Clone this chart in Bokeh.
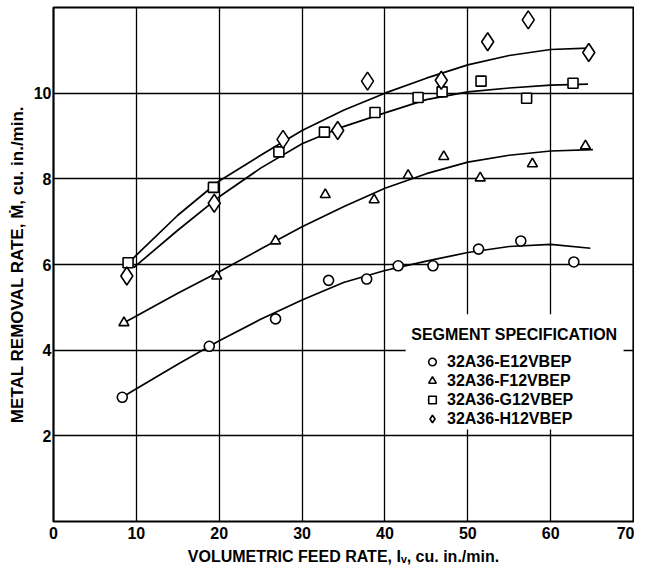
from bokeh.plotting import figure
from bokeh.models import (FixedTicker, Legend, LegendItem, Label, BoxAnnotation,
                          Range1d)
from bokeh.embed import file_html
from bokeh.resources import INLINE

# ---------------- data ----------------
series_names = ["32A36-E12VBEP", "32A36-F12VBEP", "32A36-G12VBEP", "32A36-H12VBEP"]
markers = ["circle", "triangle", "square", "diamond"]

# measured points
e_x = [8.3, 18.8, 26.8, 33.2, 37.8, 41.6, 45.8, 51.3, 56.4, 62.8]
e_y = [2.90, 4.09, 4.73, 5.63, 5.66, 5.97, 5.97, 6.36, 6.55, 6.06]

f_x = [8.5, 19.7, 26.8, 32.8, 38.7, 42.8, 47.1, 51.5, 57.8, 64.2]
f_y = [4.64, 5.73, 6.55, 7.63, 7.51, 8.08, 8.52, 8.02, 8.35, 8.77]

g_x = [9.0, 19.3, 27.2, 32.7, 38.8, 44.0, 46.9, 51.6, 57.1, 62.7]
g_y = [6.04, 7.80, 8.63, 9.09, 9.55, 9.90, 10.03, 10.28, 9.88, 10.23]

h_x = [8.85, 19.4, 27.7, 34.3, 37.9, 46.8, 52.4, 57.3, 64.6]
h_y = [5.73, 7.43, 8.92, 9.13, 10.28, 10.30, 11.20, 11.71, 10.95]

# fitted curves as drawn in the reference
e_cx = [8.3, 10, 15, 20, 25, 30, 35, 40, 45, 50, 55, 60, 64.8]
e_cy = [2.90, 3.10, 3.67, 4.22, 4.72, 5.17, 5.58, 5.86, 6.08, 6.28, 6.42, 6.47, 6.38]

f_cx = [8.5, 10, 15, 20, 25, 30, 35, 40, 45, 50, 55, 60, 65.1]
f_cy = [4.64, 4.80, 5.33, 5.83, 6.36, 6.88, 7.35, 7.78, 8.12, 8.39, 8.55, 8.65, 8.68]

g_cx = [9.7, 10, 15, 20, 25, 30, 35, 40, 45, 50, 55, 60, 64.5]
g_cy = [5.93, 5.98, 6.80, 7.58, 8.25, 8.82, 9.22, 9.54, 9.85, 10.03, 10.12, 10.19, 10.21]

h_cx = [9.5, 10, 15, 20, 25, 30, 35, 40, 45, 50, 55, 60, 64.5]
h_cy = [6.12, 6.22, 7.15, 7.95, 8.55, 9.13, 9.60, 10.00, 10.35, 10.66, 10.88, 11.02, 11.05]

x_ticks = [0, 10, 20, 30, 40, 50, 60, 70]
y_ticks = [2, 4, 6, 8, 10]

x_title = "VOLUMETRIC FEED RATE, I\u1d65, cu. in./min."
y_title = "METAL REMOVAL RATE, \u1e40, cu. in./min."
legend_title = "SEGMENT SPECIFICATION"

# ---------------- figure ----------------
FONT = "Liberation Sans"

p = figure(width=634, height=567, output_backend="svg", toolbar_location=None,
           x_range=Range1d(0, 70), y_range=Range1d(0, 12),
           min_border_left=53, min_border_right=1, min_border_top=7,
           min_border_bottom=0)

p.outline_line_color = "black"
p.outline_line_width = 2.2

for ax in (p.xaxis[0], p.yaxis[0]):
    ax.axis_line_color = None
    ax.major_tick_line_color = None
    ax.minor_tick_line_color = None
    ax.major_tick_out = 0
    ax.major_tick_in = 0
    ax.minor_tick_out = 0
    ax.minor_tick_in = 0
    ax.major_label_text_font = FONT
    ax.major_label_text_font_style = "bold"
    ax.major_label_text_font_size = "16px"
    ax.major_label_text_color = "black"
    ax.axis_label_text_font = FONT
    ax.axis_label_text_font_style = "bold"
    ax.axis_label_text_color = "black"

p.xaxis.axis_label_text_font_size = "16px"
p.yaxis.axis_label_text_font_size = "17px"

p.xaxis.ticker = FixedTicker(ticks=x_ticks)
p.yaxis.ticker = FixedTicker(ticks=y_ticks)
p.xaxis.major_label_standoff = 5
p.yaxis.major_label_standoff = 2
p.xaxis.axis_label = x_title
p.yaxis.axis_label = y_title
p.xaxis.axis_label_standoff = 6
p.yaxis.axis_label_standoff = 4

p.xgrid.ticker = FixedTicker(ticks=[10, 20, 30, 40, 50, 60])
p.ygrid.ticker = FixedTicker(ticks=y_ticks)
for g in (p.xgrid[0], p.ygrid[0]):
    g.grid_line_color = "black"
    g.grid_line_width = 1.3

# curves
for cx, cy in ((e_cx, e_cy), (f_cx, f_cy), (g_cx, g_cy), (h_cx, h_cy)):
    p.line(cx, cy, line_color="black", line_width=1.7)

# markers
sizes = [10, 10, 10, 18]
rends = []
for (xs, ys), mk, sz in zip(((e_x, e_y), (f_x, f_y), (g_x, g_y), (h_x, h_y)),
                            markers, sizes):
    r = p.scatter(xs, ys, marker=mk, size=sz, fill_color="white",
                  line_color="black", line_width=1.6)
    rends.append(r)

# legend
box = BoxAnnotation(left=42.5, right=68.8, bottom=2.15, top=4.84,
                    fill_color="white", fill_alpha=1.0, line_alpha=0)
p.add_layout(box)

title = Label(x=55.6, y=4.37, text=legend_title,
              text_align="center", text_baseline="middle",
              text_font=FONT, text_font_style="bold",
              text_font_size="16px", text_color="black")
p.add_layout(title)

legend = Legend(items=[LegendItem(label=n, renderers=[r])
                       for n, r in zip(series_names, rends)],
                location=(368, 93), orientation="vertical",
                glyph_width=22, glyph_height=19, label_height=19,
                label_standoff=4, spacing=0, padding=0, margin=0,
                border_line_color=None, background_fill_alpha=0,
                label_text_font=FONT, label_text_font_style="bold",
                label_text_font_size="16px", label_text_color="black")
p.add_layout(legend, "center")

open("out.html", "w").write(file_html(p, INLINE))
